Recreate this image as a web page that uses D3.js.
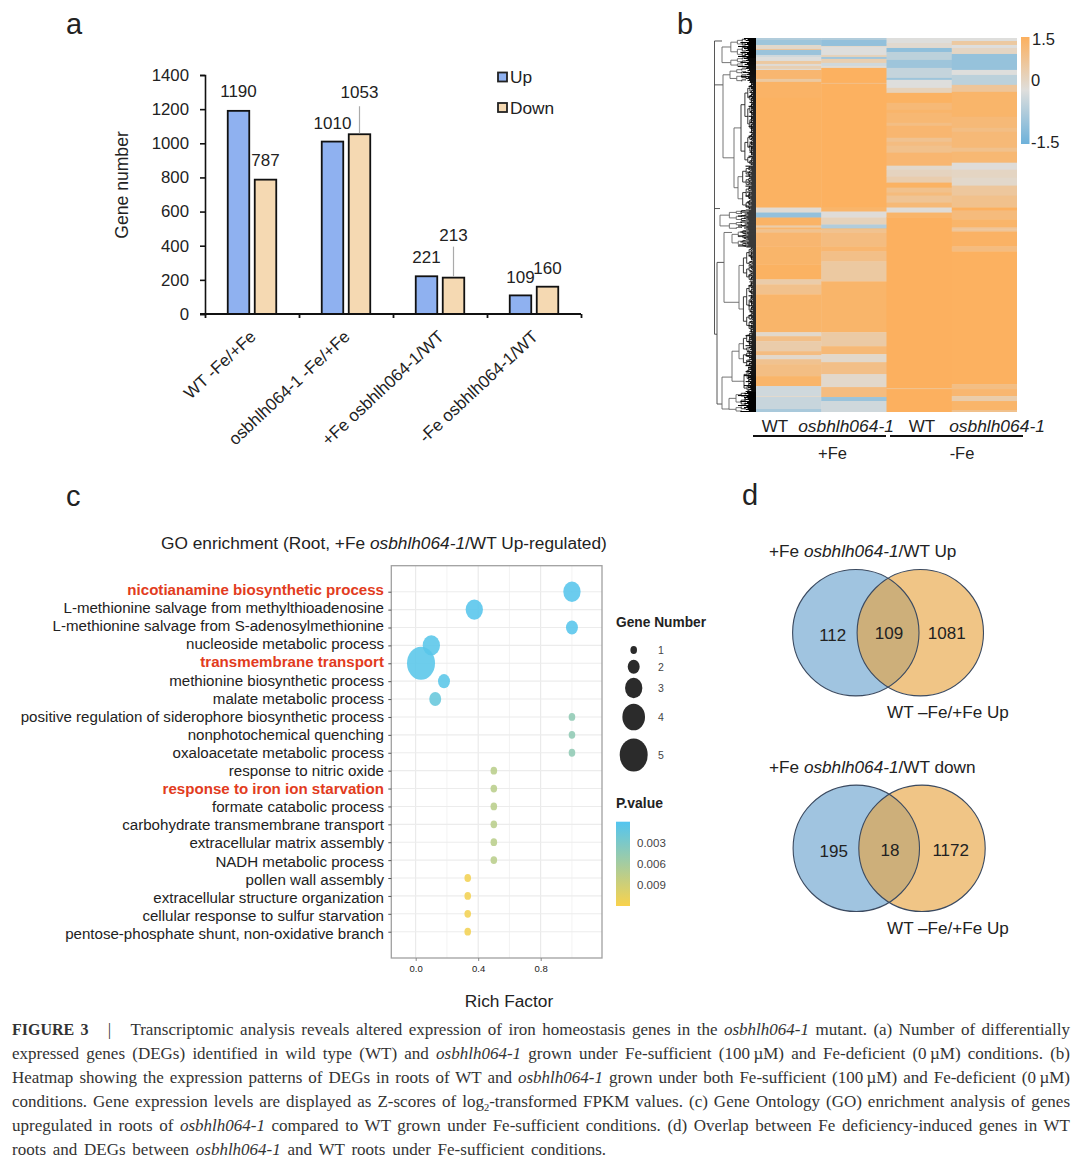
<!DOCTYPE html>
<html><head><meta charset="utf-8">
<script src="https://cdnjs.cloudflare.com/ajax/libs/d3/7.8.5/d3.min.js"></script>
<style>
html,body{margin:0;padding:0;background:#fff}
svg{display:block}
text{font-family:"Liberation Sans",Arial,sans-serif;fill:#222}
</style></head><body>
<svg id="c" width="1080" height="1165"></svg>
<script>
// ---------- panel a ----------
const barCategories = ["WT -Fe/+Fe","osbhlh064-1 -Fe/+Fe","+Fe osbhlh064-1/WT","-Fe osbhlh064-1/WT"];
const upValues = [1190,1010,221,109];
const downValues = [787,1053,213,160];
const barTicks = [0,200,400,600,800,1000,1200,1400];
// ---------- panel b : [last row of band, z-score] per sample column ----------
const heatSamples = ["WT +Fe","osbhlh064-1 +Fe","WT -Fe","osbhlh064-1 -Fe"];
const heatWtPlus = [[2,-0.6],[7,-0.85],[11,0.2],[12,0.8],[17,-0.9],[19,-0.2],[23,0],[26,0.7],[28,0.1],[31,0.5],[32,0],[41,1.3],[44,0.7],[60,1.4],[170,1.45],[175,0.1],[180,-1.0],[188,1.4],[190,0.6],[192,1.3],[195,0.9],[209,1.3],[227,1.35],[242,1.45],[247,0.6],[257,0.95],[295,1.35],[299,0.2],[304,1.0],[314,0.6],[318,1.1],[322,0.2],[327,0.9],[339,1.05],[349,1.35],[359,-0.2],[360,0.2],[372,-0.3],[375,-0.7]];
const heatMutPlus = [[2,-0.6],[8,-1.0],[9,0.2],[17,0],[19,0.4],[21,-0.8],[25,0.5],[28,-0.2],[30,0.1],[45,1.48],[46,1.0],[170,1.48],[174,1.35],[180,0.05],[187,0.4],[191,-0.6],[192,1.3],[195,0.9],[209,1.1],[214,1.3],[224,1.0],[244,0.7],[295,1.35],[309,0.65],[317,1.2],[325,0.2],[337,1.0],[350,0.2],[360,1.1],[364,-0.9],[375,-0.2]];
const heatWtMinus = [[5,0],[10,0.15],[14,-1.05],[22,-0.45],[30,-0.85],[40,-0.35],[42,-0.85],[50,0],[55,0.4],[65,1.45],[72,1.2],[75,1.35],[85,1.25],[88,1.05],[100,1.3],[104,0.9],[108,1.1],[115,0.95],[128,1.3],[132,0.2],[139,0.35],[145,0.55],[150,1.45],[155,0.95],[158,1.15],[165,0.85],[170,1.2],[175,0.05],[180,1.35],[351,1.5],[352,0.95],[375,1.5]];
const heatMutMinus = [[3,0],[7,0.7],[10,0],[16,0.3],[32,-0.95],[37,0],[47,-0.45],[54,0.8],[79,1.35],[90,1.2],[94,1.05],[110,1.2],[114,0.95],[125,1.25],[132,0.05],[140,0.3],[148,0.2],[158,0.75],[170,0.95],[173,1.5],[182,1.15],[190,1.35],[192,0.8],[194,0.8],[209,1.42],[214,1.1],[347,1.48],[352,1.05],[359,1.3],[364,0.6],[373,1.35],[375,0.95]];
const heatColumns = [heatWtPlus,heatMutPlus,heatWtMinus,heatMutMinus];
const heatTotalRows = 375;
// dendrogram: merge heights, attachment row, and leaf clusters [first row, last row, height, leaf mass]
const dendroTree = {h:41.5,kids:[
  {at:3,span:[0,30,34,12]},
  {at:47,h:33,kids:[
    {span:[30,44,26,10]},
    {h:22,kids:[{span:[44,128,15,5]},{span:[128,172,18,7]}]}
  ]},
  {at:171,span:[172,192,36,12]},
  {at:297,h:39,kids:[
    {at:225,h:32,kids:[{at:195,span:[192,210,24,12]},{at:265,span:[210,296,17,5]}]},
    {at:367,h:34,kids:[
      {at:340,h:24,kids:[{span:[296,330,17,7]},{span:[330,355,12,8]}]},
      {at:372,span:[355,375,27,12]}
    ]}
  ]}
]};
const splitRatios = [0.62,0.4,0.52,0.7,0.33,0.58,0.45];
const massJitter = [1,0.7,0.85,0.6,1.3,0.75,0.95,0.65,1.5,0.8];
// ---------- panel c ----------
const goTerms = ["nicotianamine biosynthetic process","L-methionine salvage from methylthioadenosine","L-methionine salvage from S-adenosylmethionine","nucleoside metabolic process","transmembrane transport","methionine biosynthetic process","malate metabolic process","positive regulation of siderophore biosynthetic process","nonphotochemical quenching","oxaloacetate metabolic process","response to nitric oxide","response to iron ion starvation","formate catabolic process","carbohydrate transmembrane transport","extracellular matrix assembly","NADH metabolic process","pollen wall assembly","extracellular structure organization","cellular response to sulfur starvation","pentose-phosphate shunt, non-oxidative branch"];
const goHighlighted = ["nicotianamine biosynthetic process","transmembrane transport","response to iron ion starvation"];
const richFactor = [1,0.375,1,0.1,0.034,0.181,0.125,1,1,1,0.5,0.5,0.5,0.5,0.5,0.5,0.333,0.333,0.333,0.333];
const geneNumber = [3,3,2,3,5,2,2,1,1,1,1,1,1,1,1,1,1,1,1,1];
const pValue = [0.0003,0.0003,0.0003,0.0005,0.0005,0.0006,0.0015,0.0045,0.0045,0.0045,0.0075,0.0075,0.0075,0.0075,0.0075,0.0075,0.0115,0.0115,0.0115,0.0115];
const sizeLegend = [1,2,3,4,5];
const pLegend = [0.003,0.006,0.009];
const richTicks = [0,0.4,0.8];
const richMinor = [0.2,0.6,1.0];
// ---------- panel d ----------
const vennTop = {title:"Up",left:112,both:109,right:1081};
const vennBottom = {title:"down",left:195,both:18,right:1172};
// ---------- caption ----------
const captionLines = [
 [["FIGURE 3","b"],["   |   ",""],["Transcriptomic analysis reveals altered expression of iron homeostasis genes in the ",""],["osbhlh064-1","i"],[" mutant. (a) Number of differentially",""]],
 [["expressed genes (DEGs) identified in wild type (WT) and ",""],["osbhlh064-1","i"],[" grown under Fe-sufficient (100\u2009µM) and Fe-deficient (0\u2009µM) conditions. (b)",""]],
 [["Heatmap showing the expression patterns of DEGs in roots of WT and ",""],["osbhlh064-1","i"],[" grown under both Fe-sufficient (100\u2009µM) and Fe-deficient (0\u2009µM)",""]],
 [["conditions. Gene expression levels are displayed as Z-scores of log",""],["2","s"],["-transformed FPKM values. (c) Gene Ontology (GO) enrichment analysis of genes",""]],
 [["upregulated in roots of ",""],["osbhlh064-1","i"],[" compared to WT grown under Fe-sufficient conditions. (d) Overlap between Fe deficiency-induced genes in WT",""]],
 [["roots and DEGs between ",""],["osbhlh064-1","i"],[" and WT roots under Fe-sufficient conditions.",""]]
];
const captionEnds = [1070,1070,1070,1070,1070,606];

const svg = d3.select("#c");
const T = (x,y,s,size,anchor)=>svg.append("text").attr("x",x).attr("y",y).text(s).attr("font-size",size).attr("text-anchor",anchor||"start");
[["a",66,34],["b",677,34],["c",66,506],["d",742,505]].forEach(d=>T(d[1],d[2],d[0],29));
const defs = svg.append("defs");
defs.append("filter").attr("id","soft").attr("x","-2%").attr("y","-2%").attr("width","104%").attr("height","104%")
  .append("feGaussianBlur").attr("stdDeviation",0.55);

/* ===== a ===== */
const ya = d3.scaleLinear().domain([0,1400]).range([314,75]);
const xa = d3.scaleBand().domain(barCategories).range([205,581]);
const xaT = d3.scaleLinear().domain([0,4]).range([205,581]);
const gA = svg.append("g");
const yAxisA = gA.append("g").attr("transform","translate(205,0)").call(d3.axisLeft(ya).tickValues(barTicks).tickSize(5).tickPadding(11).tickFormat(d3.format("d")));
yAxisA.selectAll("text").attr("font-size",16.8).style("font-family",'"Liberation Sans"').attr("fill","#222");
yAxisA.selectAll("line,path").attr("stroke","#111").attr("stroke-width",1.6);
const barW = 21.5, barGap = 5.5;
const barSets = [{vals:upValues,col:"#8FB1F0",off:-barW-barGap/2},{vals:downValues,col:"#F5D9B2",off:barGap/2}];
barSets.forEach(s=>{
  gA.selectAll(null).data(barCategories).enter().append("rect")
   .attr("x",c=>xa(c)+xa.bandwidth()/2+s.off).attr("width",barW)
   .attr("y",(c,i)=>ya(s.vals[i])).attr("height",(c,i)=>ya(0)-ya(s.vals[i]))
   .attr("fill",s.col).attr("stroke","#111").attr("stroke-width",1.8);
});
const xAxisA = gA.append("g").attr("transform","translate(0,314)").call(d3.axisBottom(xaT).tickValues([0,1,2,3,4]).tickSize(4).tickFormat(""));
xAxisA.selectAll("line,path").attr("stroke","#111").attr("stroke-width",1.8);
xAxisA.select("path").attr("d","M200,0H581");
const upLabelGap = [14,12.6,13,12.7], downLabelGap = [13.6,36,37,12.7];
barCategories.forEach((c,i)=>{
  const cx = xa(c)+xa.bandwidth()/2;
  T(cx-barW/2-barGap/2, ya(upValues[i])-upLabelGap[i], upValues[i],17,"middle");
  T(cx+barW/2+barGap/2, ya(downValues[i])-downLabelGap[i], downValues[i],17,"middle");
  if(i==1||i==2) gA.append("line").attr("x1",cx+barW/2+barGap/2).attr("x2",cx+barW/2+barGap/2)
     .attr("y1",ya(downValues[i])-(i==1?28:31)).attr("y2",ya(downValues[i])-1).attr("stroke","#aaa").attr("stroke-width",1.2);
  svg.append("text").attr("transform",`translate(${cx+5},338) rotate(-43)`).attr("text-anchor","end").attr("font-size",17).text(c);
});
svg.append("text").attr("transform","translate(128,185) rotate(-90)").attr("text-anchor","middle").attr("font-size",17.6).text("Gene number");
[["Up","#8FB1F0",72.5,83],["Down","#F5D9B2",103,113.5]].forEach(d=>{
  svg.append("rect").attr("x",498).attr("y",d[2]).attr("width",9).attr("height",9).attr("fill",d[1]).attr("stroke","#222").attr("stroke-width",1.8);
  T(510,d[3],d[0],17.3);
});

/* ===== b ===== */
const xh = d3.scaleBand().domain(heatSamples).range([756,1017]);
const yh = d3.scaleLinear().domain([0,heatTotalRows]).range([38,412]);
const zh = d3.scaleLinear().domain([-1.5,0,1.5]).range(["#6DB1DA","#DEDEDC","#FCB05E"]).clamp(true);
defs.append("clipPath").attr("id","heatClip").append("rect").attr("x",756).attr("y",38).attr("width",261).attr("height",374);
const gHeat = svg.append("g").attr("clip-path","url(#heatClip)").append("g").attr("filter","url(#soft)");
heatSamples.forEach((s,k)=>{
  let prev=0;
  const runs = heatColumns[k].map(r=>{const o={a:prev,b:r[0],z:r[1]};prev=r[0];return o;});
  gHeat.append("g").selectAll("rect").data(runs).enter().append("rect")
   .attr("x",xh(s)).attr("width",xh.bandwidth()+0.5).attr("y",d=>yh(d.a)).attr("height",d=>yh(d.b)-yh(d.a)+0.4)
   .attr("fill",d=>zh(d.z));
});
// dendrogram
const xd = d3.scaleLinear().domain([0,42]).range([756,714]);
let splitI=0, leafI=0;
function expand(a,b,h,mass){
  if(b-a<=1) return {row:a,mass:mass*massJitter[leafI++%massJitter.length]};
  const r=splitRatios[splitI++%splitRatios.length];
  let m=a+Math.max(1,Math.min(b-a-1,Math.round((b-a)*r)));
  const nh=Math.max(h*0.74,mass*0.9);
  return {h,kids:[expand(a,m,nh,mass),expand(m,b,nh,mass)]};
}
function build(n){
  const o = n.span? expand(n.span[0],n.span[1],n.span[2],n.span[3]) : {h:n.h,kids:n.kids.map(build)};
  if(n.at!==undefined) o.at=n.at;
  return o;
}
const root = d3.hierarchy(build(dendroTree),d=>d.kids);
root.eachAfter(n=>{
  if(n.children){n.yy=n.data.at!==undefined?yh(n.data.at):d3.mean([n.children[0].yy,n.children[n.children.length-1].yy]);n.hh=n.data.h;}
  else {n.yy=yh(n.data.row+0.5);n.hh=0;}
});
const gD = svg.append("g").attr("fill","none");
root.descendants().forEach(n=>{
  if(n.children){
    const kids=n.children;
    const col=n.hh<16?"#222":(n.hh>37?"#444":"#666");
    gD.append("path").attr("d",`M${xd(n.hh)},${kids[0].yy}V${kids[kids.length-1].yy}`).attr("stroke",col).attr("stroke-width",0.9);
    kids.forEach(c=>{
      if(c.children) gD.append("path").attr("d",`M${xd(n.hh)},${c.yy}H${xd(c.hh)}`).attr("stroke",col).attr("stroke-width",0.9);
    });
  }
});
root.leaves().forEach(l=>{
  gD.append("path").attr("d",`M${xd(l.data.mass)},${l.yy}H756`).attr("stroke","#000").attr("stroke-width",1.05);
});
// colour bar
const gh = defs.append("linearGradient").attr("id","hg").attr("x1",0).attr("x2",0).attr("y1",0).attr("y2",1);
d3.range(0,1.001,0.1).forEach(t=>gh.append("stop").attr("offset",t).attr("stop-color",zh(1.5-3*t)));
svg.append("rect").attr("x",1021).attr("y",37).attr("width",8.5).attr("height",107).attr("fill","url(#hg)");
T(1032,45,"1.5",16.5);T(1031,86,"0",16.5);T(1031,148,"-1.5",16.5);
T(775,432,"WT",17,"middle");
T(846,432,"osbhlh064-1",17.4,"middle").attr("font-style","italic");
T(922,432,"WT",17,"middle");
T(997,432,"osbhlh064-1",17.4,"middle").attr("font-style","italic");
[[753,886],[890,1023]].forEach(d=>svg.append("line").attr("x1",d[0]).attr("x2",d[1]).attr("y1",436).attr("y2",436).attr("stroke","#111").attr("stroke-width",1.8));
T(832.5,459,"+Fe",16.5,"middle");T(962,459,"-Fe",16.5,"middle");

/* ===== c ===== */
const xc = d3.scaleLinear().domain([0,0.4]).range([415.7,478.2]);
const yc = d3.scalePoint().domain(goTerms).range([591.7,931.7]);
const yl = d3.scalePoint().domain(goTerms).range([595,939]);
const pc = d3.scaleLinear().domain([0,0.006,0.012]).range(["#52C5F0","#A5CCA0","#F9D24C"]);
const rx = d3.scaleLinear().domain([1,5]).range([3.3,14]);
const frame = {x:391.3,y:565.7,w:210.7,h:392.3};
const gC = svg.append("g");
gC.append("rect").attr("x",frame.x).attr("y",frame.y).attr("width",frame.w).attr("height",frame.h).attr("fill","#fff");
gC.selectAll("line.mn").data(richMinor).enter().append("line").attr("x1",xc).attr("x2",xc).attr("y1",frame.y).attr("y2",frame.y+frame.h).attr("stroke","#f0f0f0").attr("stroke-width",0.8);
gC.selectAll("line.mj").data(richTicks).enter().append("line").attr("x1",xc).attr("x2",xc).attr("y1",frame.y).attr("y2",frame.y+frame.h).attr("stroke","#e6e6e6").attr("stroke-width",1);
gC.selectAll("line.h").data(goTerms).enter().append("line").attr("x1",frame.x).attr("x2",frame.x+frame.w).attr("y1",d=>yc(d)).attr("y2",d=>yc(d)).attr("stroke","#ececec").attr("stroke-width",1.1);
gC.selectAll("ellipse").data(goTerms).enter().append("ellipse")
  .attr("cx",(d,i)=>xc(richFactor[i])).attr("cy",d=>yc(d))
  .attr("rx",(d,i)=>rx(geneNumber[i])).attr("ry",(d,i)=>rx(geneNumber[i])*1.18)
  .attr("fill",(d,i)=>pc(pValue[i])).attr("fill-opacity",0.88);
gC.append("rect").attr("x",frame.x).attr("y",frame.y).attr("width",frame.w).attr("height",frame.h).attr("fill","none").attr("stroke","#a0a0a0").attr("stroke-width",1.3);
const yAxC = gC.append("g").attr("transform",`translate(${frame.x},0)`).call(d3.axisLeft(yc).tickSize(3).tickFormat(""));
yAxC.select("path").remove(); yAxC.selectAll("line").attr("stroke","#555");
const xAxC = gC.append("g").attr("transform",`translate(0,${frame.y+frame.h})`).call(d3.axisBottom(xc).tickValues(richTicks).tickSize(3).tickPadding(4).tickFormat(d3.format(".1f")));
xAxC.select("path").remove(); xAxC.selectAll("line").attr("stroke","#888");
xAxC.selectAll("text").attr("font-size",9.5).attr("fill","#555").style("font-family",'"Liberation Sans"');
goTerms.forEach(t=>{
  const hl=goHighlighted.includes(t);
  const e=T(384,yl(t),t,15.1,"end");
  if(hl) e.attr("font-weight","bold").style("fill","#E23B20");
});
const titleC = svg.append("text").attr("x",161).attr("y",549).attr("font-size",17.3);
titleC.append("tspan").text("GO enrichment (Root, +Fe ");
titleC.append("tspan").attr("font-style","italic").text("osbhlh064-1");
titleC.append("tspan").text("/WT Up-regulated)");
T(509,1007,"Rich Factor",17.3,"middle");
T(616,627,"Gene Number",15.5).attr("font-weight","bold").attr("textLength",90).attr("lengthAdjust","spacingAndGlyphs");
const sizeY = d3.scaleOrdinal().domain(sizeLegend).range([650,666.7,688,717,755]);
svg.selectAll("ellipse.lg").data(sizeLegend).enter().append("ellipse")
  .attr("cx",633.7).attr("cy",d=>sizeY(d)).attr("rx",d=>rx(d)).attr("ry",d=>rx(d)*1.18).attr("fill","#2b2b2b");
sizeLegend.forEach(d=>T(658,sizeY(d)+4,d,10.5).style("fill","#444"));
T(616,808,"P.value",15.5).attr("font-weight","bold").attr("textLength",47).attr("lengthAdjust","spacingAndGlyphs");
const gp = defs.append("linearGradient").attr("id","pg").attr("x1",0).attr("x2",0).attr("y1",0).attr("y2",1);
d3.range(0,1.001,0.1).forEach(t=>gp.append("stop").attr("offset",t).attr("stop-color",pc(t*0.012)));
const yp = d3.scaleLinear().domain([0,0.012]).range([821.7,906]);
svg.append("rect").attr("x",616).attr("y",yp(0)).attr("width",14).attr("height",yp(0.012)-yp(0)).attr("fill","url(#pg)");
pLegend.forEach(p=>{
  T(637,yp(p)+4.5,d3.format(".3f")(p),11.5).style("fill","#444");
});

/* ===== d ===== */
const vennR = 63.2;
function venn(v,cy,lx,rx2,ttlY,lblY,pos){
  const id="clip"+Math.round(cy);
  defs.append("clipPath").attr("id",id).append("circle").attr("cx",lx).attr("cy",cy).attr("r",vennR);
  svg.append("circle").attr("cx",lx).attr("cy",cy).attr("r",vennR).attr("fill","#A0C4E0");
  svg.append("circle").attr("cx",rx2).attr("cy",cy).attr("r",vennR).attr("fill","#F0C586");
  svg.append("circle").attr("cx",rx2).attr("cy",cy).attr("r",vennR).attr("fill","#CDAF7A").attr("clip-path",`url(#${id})`);
  [lx,rx2].forEach(x=>svg.append("circle").attr("cx",x).attr("cy",cy).attr("r",vennR).attr("fill","none").attr("stroke","#3B4A60").attr("stroke-width",1.1));
  const t=svg.append("text").attr("x",769).attr("y",ttlY).attr("font-size",17.2);
  t.append("tspan").text("+Fe ");t.append("tspan").attr("font-style","italic").text("osbhlh064-1");t.append("tspan").text("/WT "+v.title);
  T(887,lblY,"WT –Fe/+Fe Up",17.1);
  T(pos[0],pos[3],v.left,17,"middle");T(pos[1],pos[4],v.both,17,"middle");T(pos[2],pos[4],v.right,17,"middle");
}
venn(vennTop,632.7,855.8,920.3,557,718,[832.7,889,946.7,641,639]);
venn(vennBottom,848.3,856.3,922,773,934,[833.7,890,950.7,857,855.5]);

/* ===== caption ===== */
const capY = d3.scaleLinear().domain([0,5]).range([1035,1155]);
captionLines.forEach((ln,i)=>{
  const t=svg.append("text").attr("x",12).attr("y",capY(i)).attr("font-size",17).attr("xml:space","preserve").style("white-space","pre").style("font-family",'"Liberation Serif",serif').style("fill","#333");
  let sub=false;
  ln.forEach(seg=>{
    const s=t.append("tspan").text(seg[0]);
    if(seg[1]=="b") s.attr("font-weight","bold").attr("font-size",16);
    if(seg[1]=="i") s.attr("font-style","italic");
    if(seg[1]=="s"){s.attr("dy",4).attr("font-size",10.5);sub=true;}
    else if(sub){s.attr("dy",-4);sub=false;}
  });
  const nat=t.node().getComputedTextLength();
  const spaces=ln.map(s=>s[0]).join("").split(" ").length-1;
  t.style("word-spacing",((captionEnds[i]-12-nat)/spaces)+"px");
});
</script>
</body></html>
